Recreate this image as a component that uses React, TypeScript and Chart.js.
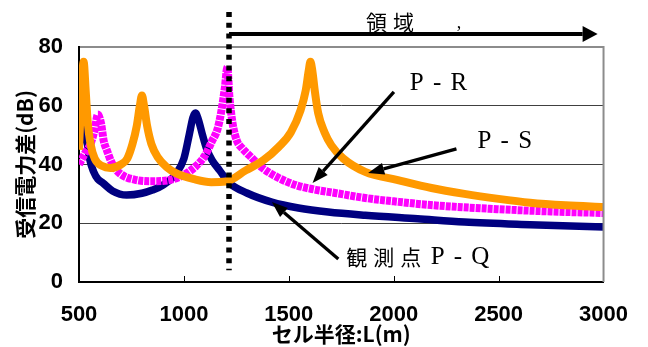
import React, { useEffect, useRef } from 'react';
import { Chart, registerables } from 'chart.js';

Chart.register(...registerables);

// P-R (orange)
const xPR = [500, 512, 522, 532, 542, 555, 575, 610, 650, 700, 730, 755, 775, 790, 800, 810, 825, 845, 875, 920, 964, 1050, 1130, 1200, 1295, 1380, 1452, 1510, 1556, 1580, 1595, 1603, 1612, 1624, 1640, 1670, 1703, 1760, 1864, 2020, 2180, 2337, 2500, 2650, 2820, 3000];
const yPR = [45, 65, 75, 65, 54, 47, 42, 39.5, 38.8, 40, 42, 47, 53, 60, 63.5, 60, 53, 47, 42.5, 39, 37, 35, 34, 34.2, 38, 41.5, 46, 51, 58.5, 65, 72, 75, 72, 65, 57.5, 51, 46.5, 42, 37.5, 34.7, 32, 30, 28.3, 27, 26.1, 25.5];

// P-S (magenta)
const xPS = [500, 530, 555, 575, 590, 605, 618, 632, 660, 694, 774, 850, 930, 1000, 1058, 1100, 1134, 1160, 1178, 1195, 1207, 1217, 1232, 1253, 1278, 1320, 1371, 1450, 1532, 1620, 1721, 1864, 2020, 2176, 2493, 2750, 3000];
const yPS = [40, 44, 47, 52, 57, 54, 48, 45, 40, 37, 34.7, 34.3, 34.7, 36.5, 39.5, 43, 48, 52, 58, 66, 73, 63, 54, 48, 45.5, 42.5, 39, 35.5, 33, 31.5, 30.3, 28.6, 27.3, 26.2, 24.8, 24, 23.5];

// P-Q (navy)
const xPQ = [500, 515, 525, 535, 552, 570, 590, 614, 660, 727, 800, 850, 900, 964, 1000, 1025, 1043, 1055, 1068, 1087, 1110, 1134, 1170, 1215, 1300, 1419, 1546, 1688, 1864, 2114, 2337, 2650, 3000];
const yPQ = [46, 53, 58, 50, 41.5, 37.5, 35, 33.7, 31, 29.6, 30.2, 31.3, 33, 37, 42, 50, 56, 57.5, 55.5, 50.5, 45, 41.5, 38, 33.8, 30.3, 27.2, 25.2, 23.8, 22.7, 21.5, 20.4, 19.5, 18.7];

const xTicks = [500, 1000, 1500, 2000, 2500, 3000];
const yTicks = [0, 20, 40, 60, 80];
const xTitle = 'セル半径:L(m)';
const yTitle = '受信電力差(dB)';
const regionText = '領域';
const labelPR = 'P - R';
const labelPS = 'P - S';
const labelPQa = '観測点';
const labelPQb = 'P - Q';
const boundaryX = 1215;

const zip = (xs: number[], ys: number[]) => xs.map((x, i) => ({ x, y: ys[i] }));

const TICK_FONT = "'Liberation Sans Narrow', 'Liberation Sans', Arial, sans-serif";
const CJK = "'Noto Sans CJK JP', sans-serif";
const SERIF = "'Liberation Serif', 'Times New Roman', serif";

function arrow(ctx: CanvasRenderingContext2D, x1: number, y1: number, x2: number, y2: number, w: number, headLen: number, headHalf: number) {
  const ang = Math.atan2(y2 - y1, x2 - x1);
  const bx = x2 - headLen * Math.cos(ang);
  const by = y2 - headLen * Math.sin(ang);
  ctx.lineWidth = w;
  ctx.setLineDash([]);
  ctx.beginPath();
  ctx.moveTo(x1, y1);
  ctx.lineTo(bx, by);
  ctx.stroke();
  ctx.beginPath();
  ctx.moveTo(x2, y2);
  ctx.lineTo(bx + headHalf * Math.sin(ang), by - headHalf * Math.cos(ang));
  ctx.lineTo(bx - headHalf * Math.sin(ang), by + headHalf * Math.cos(ang));
  ctx.closePath();
  ctx.fill();
}

const annotPlugin = {
  id: 'annot',
  afterDatasetsDraw(chart: any) {
    const { ctx, chartArea: a, scales } = chart;
    const sx = scales.x;
    const sy = scales.y;
    const X = (v: number) => sx.getPixelForValue(v);
    const Y = (v: number) => sy.getPixelForValue(v);
    ctx.save();
    // right frame
    ctx.strokeStyle = '#8c8c8c';
    ctx.lineWidth = 2;
    ctx.beginPath();
    ctx.moveTo(a.right, a.top - 1);
    ctx.lineTo(a.right, a.bottom);
    ctx.stroke();
    // inward x ticks
    ctx.strokeStyle = '#000';
    ctx.lineWidth = 1;
    xTicks.slice(1, -1).forEach((t) => {
      const px = Math.round(X(t)) + 0.5;
      ctx.beginPath();
      ctx.moveTo(px, a.bottom);
      ctx.lineTo(px, a.bottom - 6);
      ctx.stroke();
    });
    // dotted boundary
    ctx.strokeStyle = '#000';
    ctx.fillStyle = '#000';
    ctx.lineWidth = 5.5;
    ctx.setLineDash([5, 5.7]);
    ctx.beginPath();
    ctx.moveTo(X(boundaryX), Y(91.9));
    ctx.lineTo(X(boundaryX), Y(4.0));
    ctx.stroke();
    ctx.setLineDash([]);
    // top arrow
    arrow(ctx, X(boundaryX), Y(84.4), X(2972), Y(84.4), 4, 15, 8);
    // pointer arrows
    arrow(ctx, X(2001), Y(64.7), X(1613), Y(33.7), 3.3, 16, 6);
    arrow(ctx, X(2299), Y(45.3), X(1878), Y(37.1), 3.3, 16, 6);
    arrow(ctx, X(1736), Y(7.8), X(1419), Y(27.2), 3.3, 16, 6);
    // texts
    ctx.fillStyle = '#000';
    ctx.textAlign = 'left';
    ctx.textBaseline = 'middle';
    ctx.font = `21px ${CJK}`;
    (ctx as any).letterSpacing = '6px';
    ctx.fillText(regionText, X(1868), Y(88.5));
    ctx.fillText(labelPQa, X(1774), Y(8.5));
    (ctx as any).letterSpacing = '1.5px';
    ctx.font = `25px ${SERIF}`;
    ctx.fillText(labelPR, X(2077), Y(67.7));
    ctx.fillText(labelPS, X(2399), Y(47.7));
    ctx.fillText(labelPQb, X(2176), Y(8.5));
    (ctx as any).letterSpacing = '0px';
    ctx.textBaseline = 'alphabetic';
    ctx.font = `18px ${SERIF}`;
    ctx.fillText(',', X(2300), Y(86.4));
    ctx.restore();
  },
};

export default function App() {
  const ref = useRef<HTMLCanvasElement>(null);
  useEffect(() => {
    if (!ref.current) return;
    Chart.defaults.color = '#000';
    const chart = new Chart(ref.current, {
      type: 'line',
      data: {
        datasets: [
          {
            label: labelPR,
            data: zip(xPR, yPR),
            borderColor: '#FF9900',
            borderWidth: 8,
            pointRadius: 0,
            cubicInterpolationMode: 'monotone',
            fill: false,
          },
          {
            label: labelPS,
            data: zip(xPS, yPS),
            borderColor: '#FF00FF',
            borderWidth: 8,
            borderDash: [5, 1],
            pointRadius: 0,
            cubicInterpolationMode: 'monotone',
            fill: false,
          },
          {
            label: labelPQb,
            data: zip(xPQ, yPQ),
            borderColor: '#000080',
            borderWidth: 7.5,
            pointRadius: 0,
            cubicInterpolationMode: 'monotone',
            fill: false,
          },
        ],
      },
      options: {
        responsive: false,
        animation: false,
        layout: { padding: { top: 47, right: 41, left: 0, bottom: 0 } },
        plugins: { legend: { display: false }, tooltip: { enabled: false } },
        scales: {
          x: {
            type: 'linear',
            min: 500,
            max: 3000,
            afterBuildTicks: (s: any) => {
              s.ticks = xTicks.map((v) => ({ value: v }));
            },
            afterFit: (s: any) => {
              s.height = 65;
            },
            grid: { display: false, drawTicks: false },
            border: { color: '#000', width: 2 },
            ticks: {
              padding: 20,
              maxRotation: 0,
              callback: (v: any) => String(v),
              font: { family: TICK_FONT, size: 22, weight: 'bold' },
              color: '#000',
            },
            title: {
              display: true,
              text: xTitle,
              font: { family: CJK, size: 21, weight: 'bold' },
              padding: { top: 0, bottom: 0 },
              color: '#000',
            },
          },
          y: {
            type: 'linear',
            min: 0,
            max: 80,
            afterBuildTicks: (s: any) => {
              s.ticks = yTicks.map((v) => ({ value: v }));
            },
            afterFit: (s: any) => {
              s.width = 79;
            },
            grid: {
              drawTicks: false,
              color: (c: any) => (c.tick && c.tick.value === 80 ? '#8c8c8c' : '#404040'),
              lineWidth: (c: any) => (c.tick && c.tick.value === 80 ? 2 : 1),
            },
            border: { color: '#000', width: 2 },
            ticks: {
              padding: 16,
              callback: (v: any) => String(v),
              font: { family: TICK_FONT, size: 22, weight: 'bold' },
              color: '#000',
            },
            title: {
              display: true,
              text: yTitle,
              font: { family: CJK, size: 21, weight: 'bold' },
              padding: { top: 12, bottom: 0 },
              color: '#000',
            },
          },
        },
      } as any,
      plugins: [annotPlugin],
    });
    return () => chart.destroy();
  }, []);
  return (
    <div style={{ position: 'absolute', left: 0, top: 0, width: 648, height: 347, background: '#fff' }}>
      <canvas ref={ref} width={648} height={347} style={{ display: 'block' }} />
    </div>
  );
}
